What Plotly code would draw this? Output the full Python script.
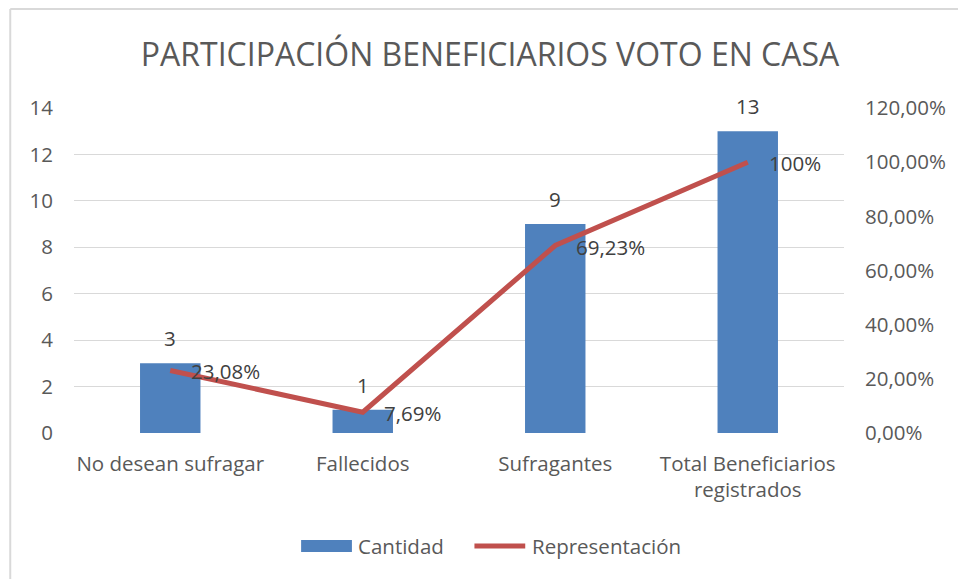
import plotly.graph_objects as go

# Datos del gráfico
categorias = ["No desean sufragar", "Fallecidos", "Sufragantes", "Total Beneficiarios<br>registrados"]
cantidad = [3, 1, 9, 13]
representacion = [23.08, 7.69, 69.23, 100]  # en porcentaje
series = ["Cantidad", "Representación"]

AZUL = "#4F81BD"
ROJO = "#C0504D"
GRIS_TXT = "#595959"
GRIS_DATO = "#404040"
GRIS_REJ = "#D9D9D9"
FUENTE = "'Open Sans', Lato, sans-serif"
TAM = 20.5

# Área de trazado en píxeles
L, R, T, B = 74, 847, 108, 433
PW, PH = R - L, B - T


def px_x(x):
    return (x - L) / PW


def px_y(y):
    return (B - y) / PH


def fmt_pct(v):
    if float(v).is_integer():
        return f"{int(v)}%"
    return f"{v:.2f}".replace(".", ",") + "%"


fig = go.Figure()

fig.add_trace(go.Bar(
    x=categorias, y=cantidad, name=series[0],
    marker=dict(color=AZUL, line=dict(width=0)),
    width=0.314, yaxis="y", showlegend=False,
))

fig.add_trace(go.Scatter(
    x=categorias, y=[v / 100 for v in representacion], name=series[1],
    mode="lines", line=dict(color=ROJO, width=5), yaxis="y2", showlegend=False,
))

anotaciones = []
# Etiquetas de cantidad encima de cada barra
for c, v in zip(categorias, cantidad):
    anotaciones.append(dict(
        x=c, y=v, xref="x", yref="y", text=str(v), showarrow=False,
        yshift=25, font=dict(size=TAM, color=GRIS_DATO, family=FUENTE),
    ))
# Etiquetas de porcentaje a la derecha de cada punto
for c, v in zip(categorias, representacion):
    anotaciones.append(dict(
        x=c, y=v / 100, xref="x", yref="y2", text=fmt_pct(v), showarrow=False,
        xanchor="left", yanchor="middle", xshift=19, yshift=-1,
        font=dict(size=TAM, color=GRIS_DATO, family=FUENTE),
    ))

# Leyenda dibujada a mano (rectángulo ancho y línea gruesa)
ley_y = 546
anotaciones.append(dict(
    x=px_x(357), y=px_y(ley_y), xref="paper", yref="paper", text=series[0],
    showarrow=False, xanchor="left", yanchor="middle",
    font=dict(size=TAM, color=GRIS_TXT, family=FUENTE),
))
anotaciones.append(dict(
    x=px_x(532), y=px_y(ley_y), xref="paper", yref="paper", text=series[1],
    showarrow=False, xanchor="left", yanchor="middle",
    font=dict(size=TAM, color=GRIS_TXT, family=FUENTE),
))

formas = [
    # Marco del área del gráfico
    dict(type="line", xref="paper", yref="paper",
         x0=px_x(10), x1=px_x(1000), y0=px_y(9), y1=px_y(9),
         line=dict(color=GRIS_REJ, width=2)),
    dict(type="line", xref="paper", yref="paper",
         x0=px_x(10), x1=px_x(10), y0=px_y(9), y1=px_y(620),
         line=dict(color=GRIS_REJ, width=2)),
    # Símbolos de la leyenda
    dict(type="rect", xref="paper", yref="paper",
         x0=px_x(302), x1=px_x(353), y0=px_y(540), y1=px_y(552),
         fillcolor=AZUL, line=dict(width=0)),
    dict(type="line", xref="paper", yref="paper",
         x0=px_x(476), x1=px_x(527), y0=px_y(ley_y), y1=px_y(ley_y),
         line=dict(color=ROJO, width=5)),
]

fig.update_layout(
    width=958, height=579,
    margin=dict(l=L, r=958 - R, t=T, b=579 - B),
    paper_bgcolor="white", plot_bgcolor="white",
    separators=",.",
    font=dict(family=FUENTE, color=GRIS_TXT, size=TAM),
    showlegend=False,
    title=dict(
        text="PARTICIPACIÓN BENEFICIARIOS VOTO EN CASA",
        x=490 / 958, xanchor="center", y=1 - 55 / 579, yanchor="middle",
        font=dict(size=32, color=GRIS_TXT, family=FUENTE),
    ),
    xaxis=dict(
        showgrid=False, showline=False, zeroline=False, ticks="",
        tickfont=dict(size=TAM, color=GRIS_TXT),
        ticklabelstandoff=16,
    ),
    yaxis=dict(
        range=[0, 14], dtick=2, showgrid=True, gridcolor=GRIS_REJ, gridwidth=1,
        zeroline=False, showline=False, ticks="",
        tickfont=dict(size=TAM, color=GRIS_TXT), ticklabelstandoff=20,
    ),
    yaxis2=dict(
        range=[0, 1.2], dtick=0.2, tickformat=".2%", overlaying="y", side="right",
        showgrid=False, zeroline=False, showline=False, ticks="",
        tickfont=dict(size=TAM, color=GRIS_TXT), ticklabelstandoff=20,
    ),
    annotations=anotaciones,
    shapes=formas,
    bargap=0.686,
)

fig.write_html("out.html")
